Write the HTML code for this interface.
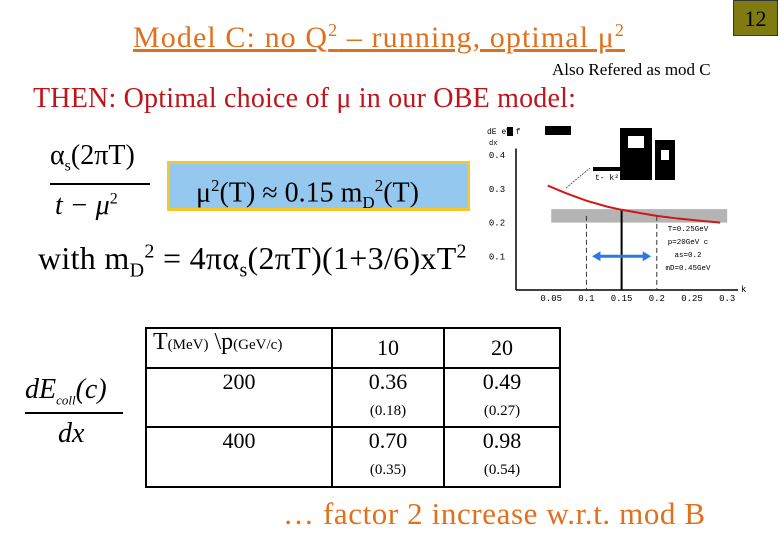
<!DOCTYPE html>
<html><head><meta charset="utf-8"><style>
body{margin:0;width:780px;height:540px;background:#fff;position:relative;overflow:hidden;font-family:"Liberation Serif",serif}
.a{position:absolute;white-space:nowrap}
table{border-collapse:collapse;position:absolute;left:145px;top:327px}
td{border:2px solid #000;text-align:center;vertical-align:top;font-size:22px;padding:0}
small{font-size:15px}
</style></head><body>
<div class="a" style="left:733px;top:0;width:45px;height:36px;background:#7f7a12;border:1px solid #333;box-sizing:border-box;font-size:22px;text-align:center;line-height:36px">12</div>
<div class="a" style="left:133px;top:20px;font-size:30px;letter-spacing:1.1px;color:#e0701c;text-decoration:underline">Model C: no Q<sup style="font-size:18px">2</sup> – running, optimal μ<sup style="font-size:18px">2</sup></div>
<div class="a" style="left:552px;top:60px;font-size:17px">Also Refered as mod C</div>
<div class="a" style="left:33px;top:83px;font-size:28px;letter-spacing:0.2px;color:#c0141a">THEN: Optimal choice of μ in our OBE model:</div>
<div class="a" style="left:50px;top:140px;font-size:28px">α<sub style="font-size:16px">s</sub>(2πT)</div>
<div class="a" style="left:50px;top:183px;width:100px;height:1.5px;background:#000"></div>
<div class="a" style="left:55px;top:190px;font-size:28px;font-style:italic">t − μ<sup style="font-size:16px;font-style:normal">2</sup></div>
<div class="a" style="left:167px;top:161px;width:303px;height:50px;background:#94c8ee;border:3px solid #f2c82e;box-sizing:border-box;font-size:28px;line-height:44px;padding-left:26px">μ<sup style="font-size:17px">2</sup>(T) ≈ 0.15 m<sub style="font-size:17px">D</sub><sup style="font-size:17px">2</sup>(T)</div>
<div class="a" style="left:38px;top:240px;font-size:32px;letter-spacing:0.3px">with m<sub style="font-size:20px">D</sub><sup style="font-size:20px">2</sup> = 4πα<sub style="font-size:20px">s</sub>(2πT)(1+3/6)xT<sup style="font-size:20px">2</sup></div>
<div class="a" style="left:25px;top:374px;font-size:28px;font-style:italic">dE<sub style="font-size:13px">coll</sub>(c)</div>
<div class="a" style="left:25px;top:412px;width:98px;height:1.5px;background:#000"></div>
<div class="a" style="left:58px;top:418px;font-size:28px;font-style:italic">dx</div>
<table>
<tr style="height:40px"><td style="width:178px;font-size:24px;text-align:left;padding-left:6px">T<small>(MeV)</small> \p<small>(GeV/c)</small></td><td style="width:110px;padding-top:6px">10</td><td style="width:114px;padding-top:6px">20</td></tr>
<tr style="height:59px"><td>200</td><td>0.36<br><small>(0.18)</small></td><td>0.49<br><small>(0.27)</small></td></tr>
<tr style="height:60px"><td>400</td><td>0.70<br><small>(0.35)</small></td><td>0.98<br><small>(0.54)</small></td></tr>
</table>
<div class="a" style="left:283px;top:496px;font-size:31px;letter-spacing:0.6px;color:#e0701c">… factor 2 increase w.r.t. mod B</div>
<svg class="a" style="left:0;top:0" width="780" height="540" font-family="Liberation Mono, monospace">
<g id="g"></g>
</svg>
<script>
const kTicks=[0.05,0.1,0.15,0.2,0.25,0.3];
const yTicks=[0.1,0.2,0.3,0.4];
const curveK=[0.045,0.07,0.1,0.13,0.15,0.18,0.2,0.23,0.26,0.29];
const curveY=[0.31,0.288,0.265,0.247,0.238,0.227,0.22,0.212,0.206,0.2];
const band=[0.2,0.24];
const X=k=>516+k*704, Y=v=>290-v*337;
const g=document.getElementById('g');const NS='http://www.w3.org/2000/svg';
function mk(t,a,txt){const e=document.createElementNS(NS,t);for(const k in a)e.setAttribute(k,a[k]);if(txt!=null)e.textContent=txt;g.appendChild(e);return e;}
let e=mk('rect',{x:X(0.05),y:Y(band[1]),width:X(0.3)-X(0.05),height:Y(band[0])-Y(band[1]),fill:'#b4b4b4'});

e=mk('line',{x1:516,y1:Y(0.42),x2:516,y2:290,stroke:'#000','stroke-width':1.5});

e=mk('line',{x1:516,y1:290,x2:738,y2:290,stroke:'#000','stroke-width':1.5});

kTicks.forEach(k=>{e=mk('text',{x:X(k),y:301,'font-size':9,'text-anchor':'middle'},String(k));
});
yTicks.forEach(v=>{e=mk('text',{x:497,y:Y(v)+3,'font-size':9,'text-anchor':'middle'},String(v));
});
e=mk('text',{x:741,y:292,'font-size':9},'k');

[0.1,0.2].forEach(k=>{e=mk('line',{x1:X(k),y1:Y(band[0]+0.02),x2:X(k),y2:290,stroke:'#333','stroke-dasharray':'5,3'});
});
e=mk('line',{x1:X(0.15),y1:Y(0.238),x2:X(0.15),y2:290,stroke:'#000','stroke-width':2});

e=mk('polyline',{points:curveK.map((k,i)=>X(k)+','+Y(curveY[i])).join(' '),fill:'none',stroke:'#d01818','stroke-width':2});

e=mk('line',{x1:X(0.115),y1:Y(0.1),x2:X(0.185),y2:Y(0.1),stroke:'#2a7ae0','stroke-width':3});

mk('polygon',{points:`${X(0.108)},${Y(0.1)} ${X(0.12)},${Y(0.1)-5} ${X(0.12)},${Y(0.1)+5}`,fill:'#2a7ae0'});
mk('polygon',{points:`${X(0.192)},${Y(0.1)} ${X(0.18)},${Y(0.1)-5} ${X(0.18)},${Y(0.1)+5}`,fill:'#2a7ae0'});
['T=0.25GeV','p=20GeV c','as=0.2','mD=0.45GeV'].forEach((t,i)=>{e=mk('text',{x:688,y:231+i*13,'font-size':7.5,'text-anchor':'middle'},t);
});
mk('line',{x1:566,y1:188,x2:590,y2:168,stroke:'#444','stroke-width':0.8,'stroke-dasharray':'2,1'});
e=mk('text',{x:595,y:180,'font-size':8},"t- k² mD²");

mk('rect',{x:593,y:167,width:55,height:4,fill:'#000'});
mk('rect',{x:620,y:128,width:32,height:52,fill:'#000'});mk('rect',{x:628,y:136,width:16,height:12,fill:'#fff'});
mk('rect',{x:655,y:140,width:20,height:40,fill:'#000'});mk('rect',{x:661,y:150,width:8,height:10,fill:'#fff'});
e=mk('text',{x:487,y:134,'font-size':8},'dE   eV  f');

mk('text',{x:489,y:145,'font-size':7},'dx');
mk('rect',{x:507,y:127,width:6,height:9,fill:'#000'});mk('rect',{x:545,y:126,width:26,height:9,fill:'#000'});
</script>
</body></html>
